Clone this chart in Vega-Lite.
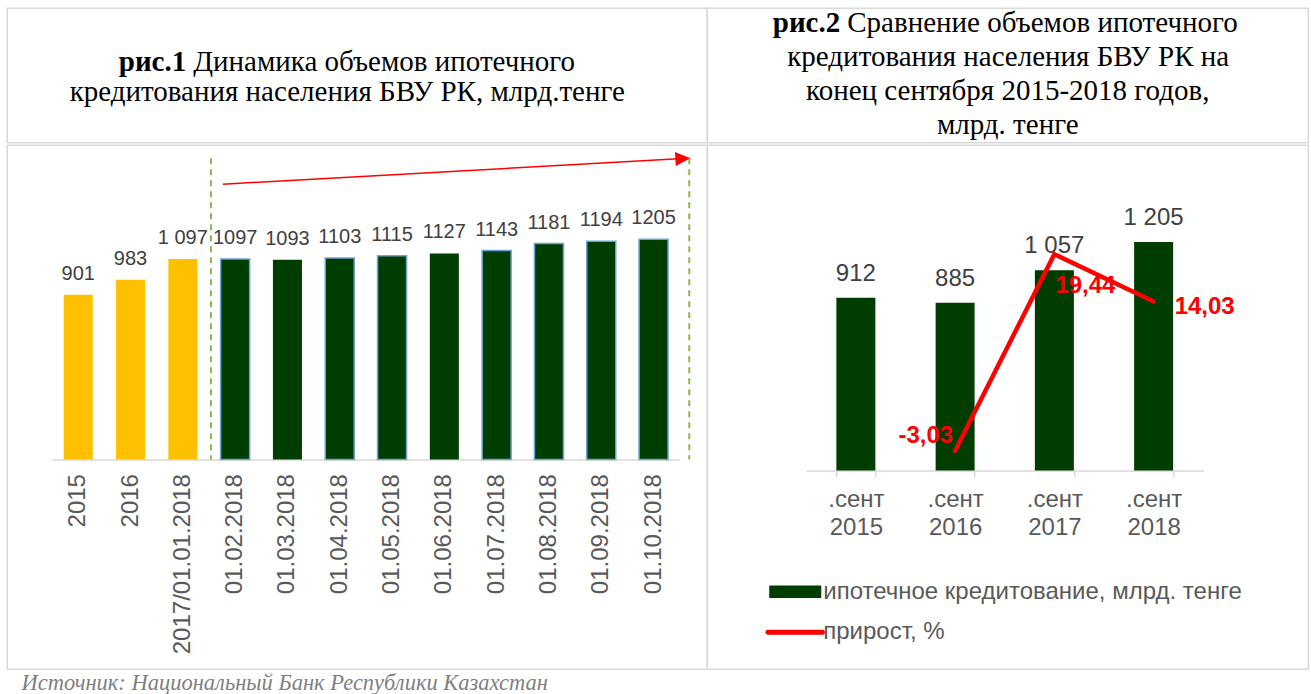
{
  "$schema": "https://vega.github.io/schema/vega-lite/v6.json",
  "padding": {"left": 6.25, "top": 7.25, "right": 2, "bottom": 0},
  "background": "white",
  "config": {
    "view": {"stroke": "#d9d9d9", "strokeWidth": 1.5},
    "concat": {"spacing": 0},
    "font": "Liberation Sans"
  },
  "datasets": {
    "left": [
      {"d": "2015", "v": 901, "lbl": "901", "kind": "год"},
      {"d": "2016", "v": 983, "lbl": "983", "kind": "год"},
      {"d": "2017/01.01.2018", "v": 1097, "lbl": "1 097", "kind": "год"},
      {"d": "01.02.2018", "v": 1097, "lbl": "1097", "kind": "месяц"},
      {"d": "01.03.2018", "v": 1093, "lbl": "1093", "kind": "месяц"},
      {"d": "01.04.2018", "v": 1103, "lbl": "1103", "kind": "месяц"},
      {"d": "01.05.2018", "v": 1115, "lbl": "1115", "kind": "месяц"},
      {"d": "01.06.2018", "v": 1127, "lbl": "1127", "kind": "месяц"},
      {"d": "01.07.2018", "v": 1143, "lbl": "1143", "kind": "месяц"},
      {"d": "01.08.2018", "v": 1181, "lbl": "1181", "kind": "месяц"},
      {"d": "01.09.2018", "v": 1194, "lbl": "1194", "kind": "месяц"},
      {"d": "01.10.2018", "v": 1205, "lbl": "1205", "kind": "месяц"}
    ],
    "right": [
      {"m": ".сент 2015", "v": 912, "lbl": "912", "g": null, "glbl": null},
      {"m": ".сент 2016", "v": 885, "lbl": "885", "g": -3.03, "glbl": "-3,03"},
      {"m": ".сент 2017", "v": 1057, "lbl": "1 057", "g": 19.44, "glbl": "19,44"},
      {"m": ".сент 2018", "v": 1205, "lbl": "1 205", "g": 14.03, "glbl": "14,03"}
    ],
    "t1": [{"bold": "рис.1", "l1": "Динамика объемов ипотечного", "l2": "кредитования населения БВУ РК, млрд.тенге"}],
    "t2": [{"bold": "рис.2", "l1": "Сравнение объемов ипотечного", "l2": "кредитования населения БВУ РК на", "l3": "конец сентября 2015-2018 годов,", "l4": "млрд. тенге"}],
    "annot": [{"note": "рост"}]
  },
  "title": {
    "text": "Источник: Национальный Банк Республики Казахстан",
    "orient": "bottom",
    "anchor": "start",
    "font": "Liberation Serif",
    "fontStyle": "italic",
    "fontWeight": "normal",
    "fontSize": 22.5,
    "color": "#7F7F7F",
    "offset": 1.5,
    "dx": 15
  },
  "spacing": 0,
  "vconcat": [
    {
      "spacing": 0,
      "bounds": "flush",
      "hconcat": [
        {
          "width": 700,
          "height": 134.5,
          "view": {"stroke": "#d9d9d9", "strokeWidth": 1.5},
          "data": {"name": "t1"},
          "encoding": {
            "x": {"datum": 0.5, "type": "quantitative", "scale": {"domain": [0, 1], "nice": false}, "axis": null},
            "y": {"datum": 0.5, "type": "quantitative", "scale": {"domain": [0, 1], "nice": false}, "axis": null}
          },
          "layer": [
            {"mark": {"type": "text", "align": "right", "baseline": "middle", "dx": -171, "dy": -13.5, "font": "Liberation Serif", "fontSize": 29, "fontWeight": "bold", "color": "#000000"}, "encoding": {"text": {"field": "bold"}}},
            {"mark": {"type": "text", "align": "left", "baseline": "middle", "dx": -164, "dy": -13.5, "font": "Liberation Serif", "fontSize": 29, "color": "#000000"}, "encoding": {"text": {"field": "l1"}}},
            {"mark": {"type": "text", "align": "center", "baseline": "middle", "dx": -10, "dy": 16.5, "font": "Liberation Serif", "fontSize": 29, "color": "#000000"}, "encoding": {"text": {"field": "l2"}}}
          ]
        },
        {
          "width": 601,
          "height": 134.5,
          "view": {"stroke": "#d9d9d9", "strokeWidth": 1.5},
          "data": {"name": "t2"},
          "encoding": {
            "x": {"datum": 0.5, "type": "quantitative", "scale": {"domain": [0, 1], "nice": false}, "axis": null},
            "y": {"datum": 0.5, "type": "quantitative", "scale": {"domain": [0, 1], "nice": false}, "axis": null}
          },
          "layer": [
            {"mark": {"type": "text", "align": "right", "baseline": "middle", "dx": -167.5, "dy": -52.5, "font": "Liberation Serif", "fontSize": 29, "fontWeight": "bold", "color": "#000000"}, "encoding": {"text": {"field": "bold"}}},
            {"mark": {"type": "text", "align": "left", "baseline": "middle", "dx": -160.5, "dy": -52.5, "font": "Liberation Serif", "fontSize": 29, "color": "#000000"}, "encoding": {"text": {"field": "l1"}}},
            {"mark": {"type": "text", "align": "center", "baseline": "middle", "dx": 0.5, "dy": -18.5, "font": "Liberation Serif", "fontSize": 29, "color": "#000000"}, "encoding": {"text": {"field": "l2"}}},
            {"mark": {"type": "text", "align": "center", "baseline": "middle", "dx": 0, "dy": 15.5, "font": "Liberation Serif", "fontSize": 29, "color": "#000000"}, "encoding": {"text": {"field": "l3"}}},
            {"mark": {"type": "text", "align": "center", "baseline": "middle", "dx": 0, "dy": 49.5, "font": "Liberation Serif", "fontSize": 29, "color": "#000000"}, "encoding": {"text": {"field": "l4"}}}
          ]
        }
      ]
    },
    {
      "spacing": 0,
      "bounds": "flush",
      "resolve": {"scale": {"color": "independent", "x": "independent", "y": "independent"}},
      "hconcat": [
        {
          "width": 700,
          "height": 524,
          "resolve": {"scale": {"x": "independent"}},
          "layer": [
            {
              "data": {"name": "left"},
              "encoding": {
                "x": {
                  "field": "d", "type": "nominal", "sort": null,
                  "scale": {"range": [44.85, 672.45], "paddingInner": 0.445, "paddingOuter": 0.2225},
                  "axis": {"orient": "bottom", "offset": -209.7, "title": null, "domainColor": "#d9d9d9", "domainWidth": 1.5, "ticks": false, "tickSize": 0, "labelAngle": -90, "labelAlign": "right", "labelBaseline": "middle", "labelFont": "Liberation Sans", "labelFontSize": 24, "labelColor": "#595959", "labelPadding": 14, "labelOverlap": false, "labelLimit": 0}
                },
                "y": {"field": "v", "type": "quantitative", "scale": {"domain": [0, 1719], "range": [314.3, 0], "nice": false}, "axis": null}
              },
              "layer": [
                {
                  "mark": {"type": "bar", "strokeWidth": 1.5},
                  "encoding": {
                    "color": {"field": "kind", "type": "nominal", "scale": {"domain": ["год", "месяц"], "range": ["#FFC000", "#003D00"]}, "legend": null},
                    "stroke": {"condition": {"test": "datum.kind === 'год' || datum.d === '01.03.2018' || datum.d === '01.06.2018'", "value": "transparent"}, "value": "#6FA3D8"}
                  }
                },
                {
                  "mark": {"type": "text", "baseline": "alphabetic", "dy": -15, "fontSize": 20, "font": "Liberation Sans", "color": "#404040"},
                  "encoding": {"text": {"field": "lbl"}}
                }
              ]
            },
            {
              "data": {"name": "annot"},
              "encoding": {
                "x": {"datum": 0, "type": "quantitative", "scale": {"domain": [0, 12], "range": [44.85, 672.45], "nice": false, "zero": false}, "axis": null},
                "y": {"datum": 0, "type": "quantitative", "scale": {"domain": [0, 1719], "range": [314.3, 0], "nice": false}, "axis": null}
              },
              "layer": [
                {"mark": {"type": "rule", "strokeDash": [6, 5], "strokeWidth": 2, "color": "#8DB453"}, "encoding": {"x": {"datum": 3.037, "type": "quantitative"}, "y": {"datum": 1648, "type": "quantitative"}, "y2": {"datum": 0}}},
                {"mark": {"type": "rule", "strokeDash": [6, 5], "strokeWidth": 2, "color": "#8DB453"}, "encoding": {"x": {"datum": 12.183, "type": "quantitative"}, "y": {"datum": 1648, "type": "quantitative"}, "y2": {"datum": 0}}},
                {"mark": {"type": "rule", "strokeWidth": 1.5, "color": "#FF0000"}, "encoding": {"x": {"datum": 3.265, "type": "quantitative"}, "x2": {"datum": 12.06}, "y": {"datum": 1506, "type": "quantitative"}, "y2": {"datum": 1646}}},
                {"mark": {"type": "point", "shape": "M1,0L-1,-0.93L-1,0.93Z", "size": 225, "filled": true, "opacity": 1, "color": "#FF0000", "angle": -3.2}, "encoding": {"x": {"datum": 12.06, "type": "quantitative"}, "y": {"datum": 1646, "type": "quantitative"}}}
              ]
            }
          ]
        },
        {
          "width": 601,
          "height": 524,
          "data": {"name": "right"},
          "encoding": {
            "x": {
              "field": "m", "type": "nominal", "sort": null,
              "scale": {"range": [99, 496], "paddingInner": 0.607, "paddingOuter": 0.3035},
              "axis": {"orient": "bottom", "offset": -198.7, "title": null, "domainColor": "#d9d9d9", "domainWidth": 1.5, "ticks": true, "tickBand": "extent", "tickColor": "#d9d9d9", "tickWidth": 1.5, "tickSize": 6, "labelAngle": 0, "labelAlign": "center", "labelBaseline": "alphabetic", "labelFont": "Liberation Sans", "labelFontSize": 24, "labelColor": "#595959", "labelLineHeight": 28.5, "labelPadding": 29.5, "labelExpr": "split(datum.label, ' ')", "labelOverlap": false, "labelLimit": 0}
            }
          },
          "resolve": {"scale": {"y": "independent"}},
          "layer": [
            {
              "encoding": {
                "y": {"field": "v", "type": "quantitative", "scale": {"domain": [0, 1715.7], "range": [325.3, 0], "nice": false}, "axis": null}
              },
              "layer": [
                {
                  "mark": {"type": "bar"},
                  "encoding": {
                    "color": {
                      "datum": "ипотечное кредитование, млрд. тенге", "type": "nominal",
                      "scale": {"domain": ["ипотечное кредитование, млрд. тенге", "прирост, %"], "range": ["#003D00", "#FF0000"]},
                      "legend": {
                        "orient": "none", "legendX": 62, "legendY": 433.5, "direction": "vertical", "title": null,
                        "labelFont": "Liberation Sans", "labelFontSize": 24, "labelColor": "#595959",
                        "symbolSize": 676, "symbolType": "M-1,-0.49H3V0.49H-1Z", "symbolStrokeWidth": 0,
                        "labelOffset": 28, "rowPadding": 15.5, "padding": 0, "labelLimit": 0,
                        "encode": {"symbols": {"update": {"shape": {"signal": "datum.value === 'прирост, %' ? 'M-1.1,-0.19H3.1A0.19,0.19 0 0 1 3.1,0.19H-1.1A0.19,0.19 0 0 1 -1.1,-0.19Z' : 'M-1,-0.49H3V0.49H-1Z'"}}}}
                      }
                    }
                  }
                },
                {
                  "mark": {"type": "text", "baseline": "alphabetic", "dy": -17, "fontSize": 24, "font": "Liberation Sans", "color": "#404040"},
                  "encoding": {"text": {"field": "lbl"}}
                }
              ]
            },
            {
              "encoding": {
                "y": {"field": "g", "type": "quantitative", "scale": {"domain": [-5.29, 31.89], "range": [325.3, 0], "nice": false, "zero": false}, "axis": null}
              },
              "layer": [
                {"mark": {"type": "line", "color": "#FF0000", "strokeWidth": 4.5, "strokeCap": "round", "strokeJoin": "round"}},
                {"transform": [{"filter": "datum.m === '.сент 2016'"}], "mark": {"type": "text", "align": "right", "baseline": "middle", "dx": -2, "dy": -14.5, "fontSize": 24, "fontWeight": "bold", "font": "Liberation Sans", "color": "#FF0000"}, "encoding": {"text": {"field": "glbl"}}},
                {"transform": [{"filter": "datum.m === '.сент 2017'"}], "mark": {"type": "text", "align": "left", "baseline": "middle", "dx": 1, "dy": 31.5, "fontSize": 24, "fontWeight": "bold", "font": "Liberation Sans", "color": "#FF0000"}, "encoding": {"text": {"field": "glbl"}}},
                {"transform": [{"filter": "datum.m === '.сент 2018'"}], "mark": {"type": "text", "align": "left", "baseline": "middle", "dx": 21, "dy": 5, "fontSize": 24, "fontWeight": "bold", "font": "Liberation Sans", "color": "#FF0000"}, "encoding": {"text": {"field": "glbl"}}}
              ]
            }
          ]
        }
      ]
    }
  ]
}
